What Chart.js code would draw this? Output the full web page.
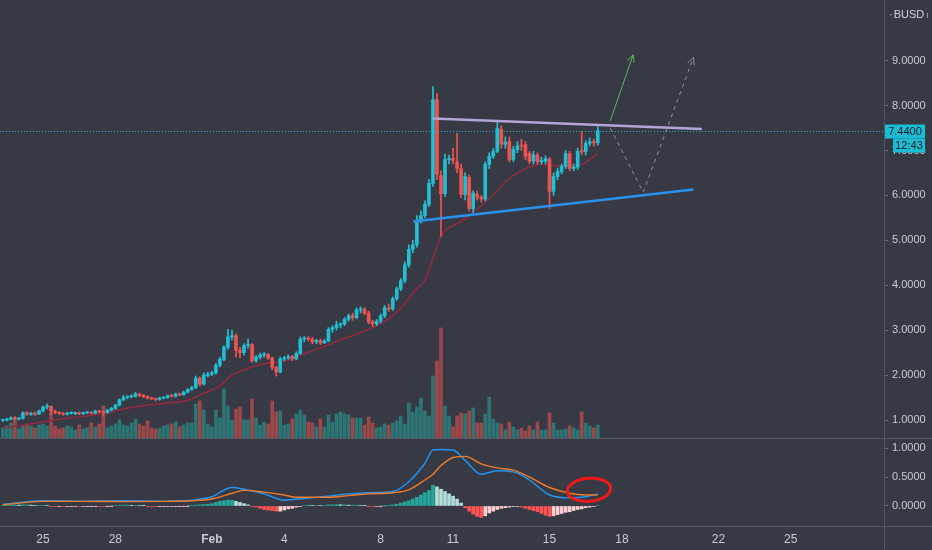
<!DOCTYPE html>
<html>
<head>
<meta charset="utf-8">
<script src="https://cdn.jsdelivr.net/npm/chart.js@4.4.0/dist/chart.umd.min.js"></script>
<style>
  html, body { margin: 0; padding: 0; background: #373a45; }
  canvas { display: block; }
</style>
</head>
<body>
<canvas id="price" width="932" height="438"></canvas>
<canvas id="macd" width="932" height="112"></canvas>
<script>
// 4h candles, first bar Jan 23 08:00 (day numbers counted so that Feb 1 = 32)
const barStartDay = 23 + 8 / 24;
const barsPerDay = 6;

const opens = [
  0.99, 1.00, 1.02, 1.05, 1.02, 1.04, 1.16, 1.13, 1.15, 1.13,
  1.20, 1.29, 1.30, 1.20, 1.17, 1.15, 1.13, 1.15, 1.14, 1.16,
  1.14, 1.16, 1.17, 1.15, 1.20, 1.18, 1.16, 1.22, 1.26, 1.33,
  1.45, 1.50, 1.52, 1.53, 1.58, 1.55, 1.52, 1.49, 1.47, 1.46,
  1.49, 1.50, 1.54, 1.53, 1.58, 1.56, 1.62, 1.68, 1.72, 1.93,
  1.80, 1.99, 2.02, 2.05, 2.22, 2.35, 2.62, 2.85, 2.88, 2.55,
  2.50, 2.66, 2.68, 2.32, 2.40, 2.45, 2.46, 2.38, 2.17, 2.07,
  2.36, 2.38, 2.41, 2.36, 2.48, 2.80, 2.82, 2.80, 2.74, 2.77,
  2.72, 2.76, 3.02, 3.06, 3.12, 3.14, 3.24, 3.32, 3.28, 3.45,
  3.46, 3.38, 3.18, 3.14, 3.20, 3.32, 3.50, 3.47, 3.70, 3.92,
  4.10, 4.45, 4.80, 4.90, 5.45, 5.55, 5.80, 6.27, 8.13, 6.44,
  6.04, 6.80, 6.82, 6.75, 6.60, 6.02, 6.40, 5.70, 6.02, 5.96,
  5.92, 6.69, 6.87, 6.98, 7.47, 7.14, 7.20, 6.80, 7.02, 7.12,
  7.13, 6.93, 6.76, 6.90, 6.75, 6.76, 6.80, 6.09, 6.42, 6.53,
  6.65, 6.93, 6.60, 6.63, 7.00, 6.97, 7.16, 7.20, 7.17
];
const highs = [
  1.02, 1.04, 1.07, 1.08, 1.06, 1.18, 1.19, 1.17, 1.18, 1.22,
  1.31, 1.36, 1.32, 1.22, 1.19, 1.17, 1.17, 1.18, 1.18, 1.18,
  1.18, 1.19, 1.19, 1.22, 1.22, 1.20, 1.24, 1.28, 1.35, 1.47,
  1.55, 1.54, 1.56, 1.62, 1.60, 1.57, 1.54, 1.51, 1.49, 1.51,
  1.52, 1.56, 1.57, 1.60, 1.60, 1.64, 1.70, 1.75, 1.98, 1.96,
  2.05, 2.07, 2.09, 2.26, 2.40, 2.66, 3.02, 3.00, 2.92, 2.62,
  2.70, 2.80, 2.70, 2.44, 2.49, 2.50, 2.48, 2.40, 2.20, 2.40,
  2.42, 2.45, 2.44, 2.52, 2.85, 2.86, 2.86, 2.84, 2.80, 2.80,
  2.79, 3.06, 3.10, 3.20, 3.16, 3.28, 3.36, 3.38, 3.50, 3.52,
  3.50, 3.42, 3.22, 3.24, 3.36, 3.55, 3.58, 3.74, 3.96, 4.15,
  4.52, 4.90, 5.00, 5.55, 5.65, 5.88, 6.35, 8.42, 8.27, 6.55,
  6.92, 6.90, 7.05, 7.38, 6.70, 6.50, 6.45, 6.10, 6.10, 6.00,
  6.75, 6.95, 7.05, 7.64, 7.55, 7.30, 7.30, 7.10, 7.20, 7.25,
  7.20, 6.98, 6.98, 6.95, 6.85, 6.88, 6.85, 6.50, 6.60, 6.70,
  7.00, 6.98, 6.70, 7.05, 7.42, 7.22, 7.28, 7.25, 7.53
];
const lows = [
  0.97, 0.98, 1.00, 1.00, 1.00, 1.02, 1.10, 1.10, 1.10, 1.12,
  1.18, 1.25, 1.12, 1.14, 1.12, 1.10, 1.11, 1.13, 1.12, 1.12,
  1.12, 1.14, 1.13, 1.14, 1.16, 1.10, 1.15, 1.20, 1.24, 1.31,
  1.43, 1.47, 1.49, 1.51, 1.52, 1.50, 1.47, 1.45, 1.43, 1.44,
  1.47, 1.48, 1.51, 1.51, 1.54, 1.55, 1.60, 1.66, 1.70, 1.76,
  1.78, 1.96, 1.99, 2.02, 2.18, 2.32, 2.58, 2.78, 2.40, 2.38,
  2.45, 2.60, 2.28, 2.28, 2.36, 2.40, 2.35, 2.12, 1.98, 2.05,
  2.32, 2.35, 2.32, 2.34, 2.46, 2.74, 2.76, 2.70, 2.70, 2.68,
  2.70, 2.74, 2.95, 3.00, 3.05, 3.10, 3.20, 3.22, 3.25, 3.38,
  3.34, 3.14, 3.08, 3.10, 3.16, 3.28, 3.42, 3.44, 3.66, 3.88,
  4.05, 4.40, 4.72, 4.85, 5.38, 5.50, 5.75, 6.20, 6.35, 5.09,
  5.98, 6.70, 6.70, 6.50, 5.95, 5.90, 5.65, 5.62, 5.90, 5.85,
  5.88, 6.60, 6.82, 6.95, 7.05, 7.05, 6.75, 6.75, 6.95, 7.00,
  6.80, 6.70, 6.70, 6.70, 6.70, 6.70, 5.71, 6.00, 6.35, 6.48,
  6.60, 6.55, 6.55, 6.58, 6.90, 6.90, 7.10, 7.10, 7.12
];
const closes = [
  1.00, 1.02, 1.05, 1.02, 1.04, 1.16, 1.13, 1.15, 1.13, 1.20,
  1.29, 1.30, 1.20, 1.17, 1.15, 1.13, 1.15, 1.16, 1.16, 1.14,
  1.16, 1.17, 1.15, 1.20, 1.18, 1.16, 1.22, 1.26, 1.33, 1.45,
  1.50, 1.52, 1.53, 1.58, 1.55, 1.52, 1.49, 1.47, 1.46, 1.49,
  1.50, 1.54, 1.53, 1.58, 1.56, 1.62, 1.68, 1.72, 1.93, 1.80,
  2.00, 2.02, 2.05, 2.22, 2.35, 2.62, 2.85, 2.88, 2.55, 2.50,
  2.66, 2.68, 2.32, 2.40, 2.45, 2.46, 2.38, 2.17, 2.07, 2.36,
  2.38, 2.41, 2.36, 2.48, 2.80, 2.82, 2.80, 2.74, 2.77, 2.72,
  2.76, 3.02, 3.06, 3.12, 3.14, 3.24, 3.32, 3.28, 3.45, 3.46,
  3.38, 3.18, 3.14, 3.20, 3.32, 3.50, 3.47, 3.70, 3.92, 4.10,
  4.45, 4.80, 4.90, 5.45, 5.55, 5.80, 6.27, 8.13, 6.47, 6.04,
  6.80, 6.82, 6.78, 6.60, 6.02, 6.42, 5.71, 6.05, 5.96, 5.92,
  6.69, 6.87, 6.98, 7.49, 7.14, 7.18, 6.80, 7.02, 7.10, 7.10,
  6.87, 6.76, 6.90, 6.75, 6.78, 6.82, 6.09, 6.42, 6.53, 6.65,
  6.93, 6.60, 6.63, 6.98, 6.97, 7.16, 7.20, 7.17, 7.44
];
// volume, thousand BUSD
const volumes = [
  300, 360, 450, 540, 270, 360, 420, 360, 300, 390,
  420, 360, 750, 360, 270, 300, 360, 330, 240, 390,
  270, 300, 450, 330, 420, 960, 300, 360, 420, 540,
  390, 360, 450, 570, 420, 360, 510, 300, 270, 300,
  360, 390, 420, 480, 330, 390, 450, 450, 1020, 1110,
  840, 420, 330, 840, 600, 1470, 960, 540, 870, 930,
  540, 540, 1170, 600, 390, 480, 420, 1110, 780, 810,
  390, 420, 570, 720, 840, 690, 480, 450, 330, 570,
  330, 690, 480, 720, 780, 720, 690, 600, 600, 600,
  390, 630, 450, 300, 330, 420, 390, 450, 510, 660,
  420, 1050, 780, 930, 1200, 810, 660, 1860, 2310, 3300,
  960, 660, 330, 660, 750, 720, 810, 900, 450, 450,
  720, 1230, 570, 450, 420, 240, 480, 330, 240, 300,
  210, 360, 240, 480, 240, 240, 750, 450, 240, 240,
  270, 360, 300, 240, 780, 450, 360, 300, 390
];
const macdHist = [
  0.010, 0.015, 0.020, 0.020, 0.015, 0.020, 0.020, 0.015, 0.010, 0.010,
  0.012, 0.010, -0.005, -0.010, -0.010, -0.012, -0.010, -0.010, -0.008, -0.010,
  -0.008, -0.006, -0.005, -0.005, -0.006, -0.008, -0.005, -0.003, 0.005, 0.010,
  0.015, 0.015, 0.012, 0.012, 0.010, 0.005, -0.005, -0.010, -0.012, -0.012,
  -0.010, -0.010, -0.008, -0.006, -0.005, -0.004, -0.002, 0.005, 0.015, 0.020,
  0.025, 0.030, 0.040, 0.060, 0.080, 0.090, 0.100, 0.100, 0.080, 0.060,
  0.040, 0.020, -0.005, -0.020, -0.040, -0.060, -0.070, -0.080, -0.090, -0.090,
  -0.070, -0.050, -0.040, -0.020, -0.010, 0.010, 0.015, 0.010, 0.010, 0.008,
  0.010, 0.020, 0.020, 0.025, 0.020, 0.020, 0.015, 0.015, 0.015, 0.010,
  0.005, -0.005, -0.010, -0.008, -0.005, 0.002, 0.005, 0.020, 0.030, 0.050,
  0.070, 0.090, 0.120, 0.150, 0.190, 0.230, 0.270, 0.360, 0.330, 0.290,
  0.250, 0.210, 0.170, 0.120, 0.050, -0.030, -0.090, -0.140, -0.180, -0.200,
  -0.170, -0.120, -0.090, -0.060, -0.040, -0.030, -0.020, -0.010, -0.010, -0.020,
  -0.040, -0.060, -0.080, -0.100, -0.130, -0.160, -0.180, -0.170, -0.150, -0.130,
  -0.110, -0.100, -0.080, -0.060, -0.050, -0.030, -0.020, -0.010, 0.010
];

// moving average at these bars
const maBars = [0, 8, 16, 24, 32, 41, 46, 49, 54, 57, 62, 66, 70, 74, 82, 91, 95, 99, 103, 105, 107, 109, 114, 118, 122, 126, 134, 140, 144, 148];
const maValues = [0.82, 0.93, 1.04, 1.13, 1.28, 1.38, 1.44, 1.56, 1.76, 2.00, 2.18, 2.27, 2.31, 2.44, 2.71, 3.02, 3.20, 3.49, 3.93, 4.10, 4.60, 5.09, 5.42, 5.69, 6.02, 6.38, 6.69, 6.64, 6.69, 6.93];

// MACD and signal lines at these bars
const macdBars = [0, 10, 20, 30, 40, 47, 52, 57, 60, 65, 70, 73, 81, 86, 91, 97, 101, 105, 107, 109, 112, 115, 119, 123, 127, 131, 136, 141, 145, 148];
const macdValues = [0.03, 0.09, 0.08, 0.09, 0.08, 0.10, 0.16, 0.32, 0.29, 0.21, 0.10, 0.12, 0.17, 0.21, 0.23, 0.25, 0.42, 0.74, 0.97, 0.98, 0.97, 0.79, 0.55, 0.61, 0.59, 0.45, 0.19, 0.14, 0.16, 0.21];
const signalValues = [0.02, 0.08, 0.08, 0.075, 0.08, 0.09, 0.12, 0.22, 0.27, 0.24, 0.19, 0.15, 0.15, 0.18, 0.21, 0.23, 0.28, 0.45, 0.55, 0.70, 0.84, 0.86, 0.73, 0.66, 0.62, 0.50, 0.32, 0.22, 0.19, 0.19];

// drawings on the chart, [bar, price]
const resistanceLine = [[107, 7.71], [173.9, 7.48]];
const supportLine = [[102.1, 5.42], [171.8, 6.13]];
const breakoutPath = [[151.1, 7.66], [156.8, 9.13]];
const retestPath = [[151.1, 7.50], [159.3, 6.07], [171.8, 9.07]];
const macdCircle = { bar: 145.8, value: 0.28, barRadius: 5.4, valueRadius: 0.2 };

const priceTicks = [1, 2, 3, 4, 5, 6, 7, 8, 9];
const macdTicks = [0, 0.5, 1];
const dayTicks = [25, 28, 32, 35, 39, 42, 46, 49, 53, 56];
const dayLabels = ['25', '28', 'Feb', '4', '8', '11', '15', '18', '22', '25'];
const currency = 'BUSD';
const countdown = '12:43';

const xMin = -0.7, xMax = 219.2;
const UP = '#22bfd2', DOWN = '#ef5350';
const TEXT = '#c9cbd2', LINE = '#52555f';
const FONT = "'Liberation Sans Narrow', 'Liberation Sans', sans-serif";

const bars = closes.map((c, i) => i);
const candleColor = bars.map(i => closes[i] >= opens[i] ? UP : DOWN);
const volColor = bars.map(i => closes[i] >= opens[i] ? 'rgba(38,166,154,0.55)' : 'rgba(239,83,80,0.55)');
const histColor = macdHist.map((v, i) => {
  const prev = i > 0 ? macdHist[i - 1] : 0;
  if (v >= 0) return v >= prev ? '#26a69a' : '#b2dfdb';
  return v < prev ? '#ff5252' : '#ffcdd2';
});
const pts = arr => arr.map(p => ({ x: p[0], y: p[1] }));

function rightAxis(s) {
  s.width = 48;
  s.paddingTop = 0;
  s.paddingBottom = 0;
}

const axisLines = {
  id: 'axisLines',
  afterDraw(chart) {
    const ctx = chart.ctx, a = chart.chartArea;
    ctx.save();
    ctx.strokeStyle = LINE;
    ctx.lineWidth = 1;
    ctx.beginPath();
    ctx.moveTo(Math.round(a.right) + 0.5, 0);
    ctx.lineTo(Math.round(a.right) + 0.5, chart.height);
    if (chart.canvas.id === 'macd') {
      ctx.moveTo(0, 0.5); ctx.lineTo(chart.width, 0.5);
      ctx.moveTo(0, Math.round(a.bottom) + 0.5); ctx.lineTo(chart.width, Math.round(a.bottom) + 0.5);
    }
    ctx.stroke();
    ctx.restore();
  }
};

const arrowHeads = {
  id: 'arrowHeads',
  afterDatasetsDraw(chart) {
    const ctx = chart.ctx;
    chart.data.datasets.forEach((ds, di) => {
      if (!ds.arrowHead) return;
      const el = chart.getDatasetMeta(di).data;
      const tip = el[el.length - 1], prev = el[el.length - 2];
      const ang = Math.atan2(tip.y - prev.y, tip.x - prev.x);
      ctx.save();
      ctx.strokeStyle = ds.borderColor;
      ctx.lineWidth = 1;
      ctx.beginPath();
      [-0.45, 0.45].forEach(d => {
        ctx.moveTo(tip.x, tip.y);
        ctx.lineTo(tip.x - 8 * Math.cos(ang + d), tip.y - 8 * Math.sin(ang + d));
      });
      ctx.stroke();
      ctx.restore();
    });
  }
};

const lastPrice = {
  id: 'lastPrice',
  afterDraw(chart) {
    const ctx = chart.ctx, a = chart.chartArea;
    const last = closes[closes.length - 1];
    const y = Math.round(chart.scales.y.getPixelForValue(last)) + 0.5;
    ctx.save();
    ctx.strokeStyle = 'rgba(38,198,218,0.85)';
    ctx.setLineDash([1, 2]);
    ctx.beginPath();
    ctx.moveTo(a.left, y); ctx.lineTo(a.right, y);
    ctx.stroke();
    ctx.setLineDash([]);
    ctx.fillStyle = '#19bdd4';
    ctx.fillRect(a.right + 1, y - 7, 40, 14);
    ctx.fillRect(a.right + 9, y + 7, 32, 14);
    ctx.fillStyle = '#131722';
    ctx.font = '11px ' + FONT;
    ctx.textAlign = 'center';
    ctx.textBaseline = 'middle';
    ctx.fillText(last.toFixed(4), a.right + 21, y);
    ctx.fillText(countdown, a.right + 25, y + 14);
    // currency label
    ctx.fillStyle = '#d1d4dc';
    ctx.font = '11px ' + FONT;
    ctx.fillText(currency, a.right + 25, 15);
    ctx.fillStyle = '#9598a1';
    ctx.fillRect(a.right + 6, 14, 1.5, 1.5);
    ctx.fillRect(a.right + 43, 13, 1, 5);
    ctx.restore();
  }
};

const circleMark = {
  id: 'circleMark',
  afterDatasetsDraw(chart) {
    const ctx = chart.ctx, xs = chart.scales.x, ys = chart.scales.y;
    const cx = xs.getPixelForValue(macdCircle.bar), cy = ys.getPixelForValue(macdCircle.value);
    const rx = xs.getPixelForValue(macdCircle.bar + macdCircle.barRadius) - cx;
    const ry = cy - ys.getPixelForValue(macdCircle.value + macdCircle.valueRadius);
    ctx.save();
    ctx.strokeStyle = '#f01818';
    ctx.lineWidth = 3;
    ctx.beginPath();
    ctx.ellipse(cx, cy, rx, ry, -0.08, 0, Math.PI * 2);
    ctx.stroke();
    ctx.restore();
  }
};

new Chart(document.getElementById('price'), {
  type: 'bar',
  data: {
    datasets: [
      { type: 'bar', label: 'volume', yAxisID: 'yVol', order: 9, grouped: false, barThickness: 3,
        data: bars.map(i => ({ x: i, y: volumes[i] })), backgroundColor: volColor },
      { type: 'line', label: 'MA', order: 8, data: maBars.map((b, k) => ({ x: b, y: maValues[k] })),
        borderColor: '#93293c', borderWidth: 1.5, pointRadius: 0, cubicInterpolationMode: 'monotone' },
      { type: 'bar', label: 'wick', order: 7, grouped: false, barThickness: 1,
        data: bars.map(i => ({ x: i, y: [lows[i], highs[i]] })), backgroundColor: candleColor },
      { type: 'bar', label: 'body', order: 6, grouped: false, barThickness: 3, minBarLength: 1,
        data: bars.map(i => ({ x: i, y: [opens[i], closes[i]] })), backgroundColor: candleColor },
      { type: 'line', label: 'resistance', order: 2, data: pts(resistanceLine),
        borderColor: '#b4a5d8', borderWidth: 2.5, pointRadius: 0 },
      { type: 'line', label: 'support', order: 2, data: pts(supportLine),
        borderColor: '#2a92ee', borderWidth: 2.5, pointRadius: 0 },
      { type: 'line', label: 'breakout', order: 1, data: pts(breakoutPath), arrowHead: true,
        borderColor: '#5cb660', borderWidth: 1, pointRadius: 0 },
      { type: 'line', label: 'retest', order: 1, data: pts(retestPath), arrowHead: true,
        borderColor: '#8e919a', borderWidth: 1, borderDash: [4, 4], pointRadius: 0 }
    ]
  },
  options: {
    responsive: false,
    animation: false,
    layout: { padding: 0 },
    plugins: { legend: { display: false }, tooltip: { enabled: false } },
    scales: {
      x: { type: 'linear', min: xMin, max: xMax, offset: false, display: false },
      y: {
        position: 'right', min: 0.60, max: 10.35,
        afterBuildTicks: s => { s.ticks = priceTicks.map(v => ({ value: v })); },
        afterFit: rightAxis,
        ticks: { callback: v => v.toFixed(4), color: TEXT, font: { family: FONT, size: 11 }, padding: 4 },
        grid: { drawOnChartArea: false, drawTicks: true, tickLength: 4, color: '#6b6e78' },
        border: { display: false }
      },
      yVol: { display: false, min: 0, max: 13140 }
    }
  },
  plugins: [axisLines, arrowHeads, lastPrice]
});

new Chart(document.getElementById('macd'), {
  type: 'bar',
  data: {
    datasets: [
      { type: 'bar', label: 'histogram', order: 3, grouped: false, barThickness: 3,
        data: bars.map(i => ({ x: i, y: macdHist[i] })), backgroundColor: histColor },
      { type: 'line', label: 'MACD', order: 2, data: macdBars.map((b, k) => ({ x: b, y: macdValues[k] })),
        borderColor: '#2196f3', borderWidth: 1.4, pointRadius: 0, cubicInterpolationMode: 'monotone' },
      { type: 'line', label: 'signal', order: 1, data: macdBars.map((b, k) => ({ x: b, y: signalValues[k] })),
        borderColor: '#f07b2a', borderWidth: 1.4, pointRadius: 0, cubicInterpolationMode: 'monotone' }
    ]
  },
  options: {
    responsive: false,
    animation: false,
    layout: { padding: 0 },
    plugins: { legend: { display: false }, tooltip: { enabled: false } },
    scales: {
      x: {
        type: 'linear', min: xMin, max: xMax, offset: false,
        afterBuildTicks: s => { s.ticks = dayTicks.map(d => ({ value: (d - barStartDay) * barsPerDay })); },
        afterFit: s => { s.height = 24; },
        ticks: {
          autoSkip: false, maxRotation: 0, padding: 6, color: TEXT,
          callback: (v, i) => dayLabels[i],
          font: c => ({ family: FONT, size: 12, weight: dayLabels[c.index] === 'Feb' ? 'bold' : 'normal' })
        },
        grid: { display: false, drawTicks: false },
        border: { display: false }
      },
      y: {
        position: 'right', min: -0.347, max: 1.178,
        afterBuildTicks: s => { s.ticks = macdTicks.map(v => ({ value: v })); },
        afterFit: rightAxis,
        ticks: { callback: v => v.toFixed(4), color: TEXT, font: { family: FONT, size: 11 }, padding: 4 },
        grid: { drawOnChartArea: false, drawTicks: true, tickLength: 4, color: '#6b6e78' },
        border: { display: false }
      }
    }
  },
  plugins: [axisLines, circleMark]
});
</script>
</body>
</html>
